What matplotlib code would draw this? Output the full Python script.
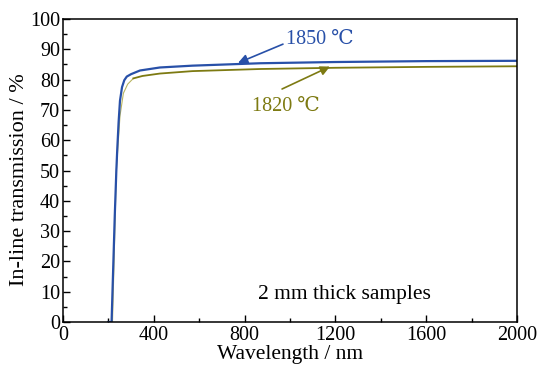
import matplotlib
matplotlib.use("Agg")
import matplotlib.pyplot as plt
import numpy as np
from matplotlib.ticker import MultipleLocator

plt.rcParams['font.family'] = ['Liberation Serif', 'DejaVu Serif']
plt.rcParams['mathtext.fontset'] = 'stix'

# Data
wl_1850 = [200, 214, 220, 228, 235, 239, 245, 251, 260, 270, 281, 300, 339, 427, 570, 870, 1200, 1600, 2000]
t_1850 = [0, 0, 15, 35, 50, 57, 66, 73, 77.5, 79.8, 81.0, 81.8, 83.0, 84.0, 84.6, 85.4, 85.8, 86.1, 86.2]

wl_1820 = [200, 218, 225, 235, 251, 266, 285, 310, 350, 427, 570, 870, 1200, 1600, 2000]
t_1820 = [0, 0, 20, 50, 68, 75.5, 78.5, 80.4, 81.2, 82.0, 82.8, 83.5, 83.9, 84.2, 84.4]

xticks = [0, 400, 800, 1200, 1600, 2000]
yticks = [0, 10, 20, 30, 40, 50, 60, 70, 80, 90, 100]

blue = '#2850a8'
olive = '#7d7a12'

fig = plt.figure(figsize=(5.4, 3.7), dpi=100)
ax = fig.add_axes([63/540, 1-322/370, (517-63)/540, (322-19)/370])

wl20 = np.array(wl_1820); t20 = np.array(t_1820)
m = wl20 <= 310
ax.plot(wl20[m], t20[m], color='#b8b460', lw=0.8)
ax.plot(wl20[wl20 >= 310], t20[wl20 >= 310], color=olive, lw=1.3)
ax.plot(wl_1850, t_1850, color=blue, lw=1.6)

ax.set_xlim(0, 2000)
ax.set_ylim(0, 100)
ax.set_xticks(xticks)
ax.set_yticks(yticks)
ax.xaxis.set_minor_locator(MultipleLocator(200))
ax.yaxis.set_minor_locator(MultipleLocator(5))
ax.tick_params(which='both', direction='in', top=False, right=False, labelsize=14.5)
ax.tick_params(axis='x', pad=3)
ax.tick_params(axis='y', pad=2)
ax.tick_params(which='major', length=5, width=1)
ax.tick_params(which='minor', length=3, width=1)
for s in ax.spines.values():
    s.set_linewidth(1.1)

ax.set_xlabel('Wavelength / nm', fontsize=15.5, labelpad=0)
ax.set_ylabel('In-line transmission / %', fontsize=16, labelpad=2)
ax.yaxis.set_label_coords(-0.075, 0.47)

ax.text(982, 93.2, '1850 ℃', color=blue, fontsize=14.5, va='center', ha='left')
ax.annotate('', xy=(771, 85.5), xytext=(969, 91.7),
            arrowprops=dict(arrowstyle='-|>', color=blue, lw=1.2, mutation_scale=14,
                            shrinkA=0, shrinkB=0))
ax.text(833, 71.3, '1820 ℃', color=olive, fontsize=14.5, va='center', ha='left')
ax.annotate('', xy=(1176, 84.3), xytext=(965, 76.9),
            arrowprops=dict(arrowstyle='-|>', color=olive, lw=1.2, mutation_scale=14,
                            shrinkA=0, shrinkB=0))
ax.text(1242, 9.2, '2 mm thick samples', fontsize=15.5, ha='center', va='center')

fig.savefig('out.png', dpi=100)
